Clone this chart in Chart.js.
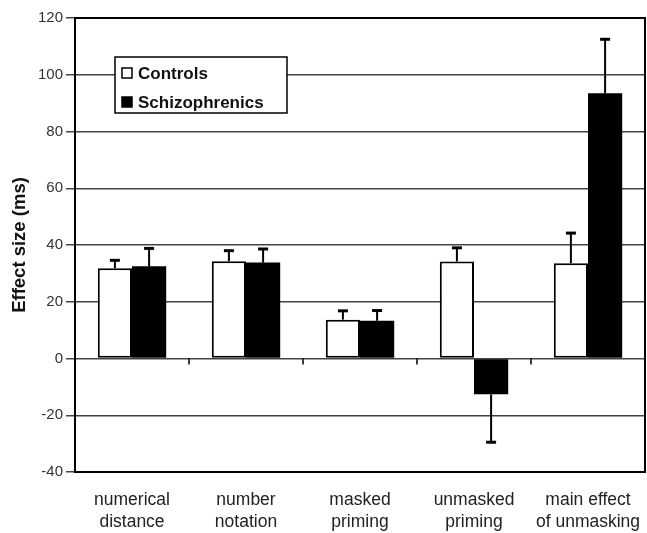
<!DOCTYPE html>
<html><head><meta charset="utf-8">
<script src="https://cdn.jsdelivr.net/npm/chart.js@4/dist/chart.umd.min.js"></script>
<style>html,body{margin:0;padding:0;background:#fff}#wrap{width:647px;height:533px}</style>
</head><body><div id="wrap"><canvas id="c"></canvas></div>
<script>
const categories = [["numerical","distance"],["number","notation"],["masked","priming"],["unmasked","priming"],["main effect","of unmasking"]];
const controls = [31.8, 34.3, 13.7, 34.2, 33.6];
const controlsErr = [2.8, 3.7, 3.1, 4.8, 10.6];
const schizo = [32.5, 33.8, 13.3, -12.6, 93.5];
const schizoErr = [6.3, 4.8, 3.6, 16.9, 19.0];
const yTicks = [-40,-20,0,20,40,60,80,100,120];
const seriesNames = ["Controls","Schizophrenics"];

const FONT = "'Liberation Sans', Arial, sans-serif";

const errPlugin = {
  id:'errbars',
  afterDatasetsDraw(chart){
    const ctx = chart.ctx, y = chart.scales.y, ca = chart.chartArea;
    const errs = [controlsErr, schizoErr];
    ctx.save();
    ctx.strokeStyle = '#000';
    chart.data.datasets.forEach((ds,di)=>{
      const meta = chart.getDatasetMeta(di);
      meta.data.forEach((bar,i)=>{
        const v = ds.data[i], e = errs[di][i];
        const end = v >= 0 ? v + e : v - e;
        const py = y.getPixelForValue(v), pe = y.getPixelForValue(end);
        ctx.lineWidth = 2;
        ctx.beginPath(); ctx.moveTo(bar.x, py); ctx.lineTo(bar.x, pe); ctx.stroke();
        ctx.lineWidth = 3;
        ctx.beginPath(); ctx.moveTo(bar.x-5, pe); ctx.lineTo(bar.x+5, pe); ctx.stroke();
      });
    });
    const y0 = y.getPixelForValue(0);
    ctx.lineWidth = 1.5;
    const n = categories.length;
    for (let i=1;i<n;i++){
      const px = ca.left + (ca.right-ca.left)*i/n;
      ctx.beginPath(); ctx.moveTo(px, y0); ctx.lineTo(px, y0+6); ctx.stroke();
    }
    ctx.lineWidth = 2;
    ctx.strokeRect(ca.left, ca.top, ca.right-ca.left, ca.bottom-ca.top);
    // legend
    const lx = ca.left + 40, ly = ca.top + 39, lw = 172, lh = 56;
    ctx.fillStyle = '#fff';
    ctx.fillRect(lx, ly, lw, lh);
    ctx.lineWidth = 1.5;
    ctx.strokeRect(lx, ly, lw, lh);
    ctx.font = "bold 17px " + FONT;
    ctx.textBaseline = 'middle';
    ctx.textAlign = 'left';
    const fills = ['#fff','#000'];
    fills.forEach((f,k)=>{
      const cy = ly + 16 + k*29;
      ctx.fillStyle = f;
      ctx.fillRect(lx+7, cy-5, 10, 10);
      ctx.lineWidth = 1.5; ctx.strokeStyle='#000';
      ctx.strokeRect(lx+7, cy-5, 10, 10);
      ctx.fillStyle = '#111';
      ctx.fillText(seriesNames[k], lx+23, cy+1);
    });
    ctx.restore();
  }
};

new Chart(document.getElementById('c'), {
  type:'bar',
  data:{
    labels: categories,
    datasets:[
      {label:seriesNames[0], data:controls, backgroundColor:'#fff', borderColor:'#000', borderWidth:2, borderSkipped:false},
      {label:seriesNames[1], data:schizo, backgroundColor:'#000', borderColor:'#000', borderWidth:0}
    ]
  },
  options:{
    responsive:true, maintainAspectRatio:false, animation:false,
    devicePixelRatio:1,
    layout:{padding:{top:18, right:2, left:0, bottom:0}},
    datasets:{bar:{categoryPercentage:0.6, barPercentage:1.0}},
    plugins:{legend:{display:false}, tooltip:{enabled:false}},
    scales:{
      x:{
        grid:{display:false, drawTicks:false},
        border:{display:false},
        ticks:{font:{family:FONT, size:17.5, lineHeight:1.27}, color:'#222', padding:17, maxRotation:0, autoSkip:false},
        afterFit(s){ s.height = 61; s.paddingLeft = 0; s.paddingRight = 0; }
      },
      y:{
        min:-40, max:120,
        afterBuildTicks(s){ s.ticks = yTicks.map(v=>({value:v})); },
        grid:{color:'#444', lineWidth:1.5, tickLength:9, tickColor:'#444'},
        border:{display:true, color:'#000', width:2},
        ticks:{font:{family:FONT, size:15}, color:'#333', padding:3},
        title:{display:true, text:'Effect size (ms)', font:{family:FONT, size:18.5, weight:'bold'}, color:'#111', padding:{top:9,bottom:0}},
        afterFit(s){ s.width = 75; }
      }
    }
  },
  plugins:[errPlugin]
});
</script></body></html>
